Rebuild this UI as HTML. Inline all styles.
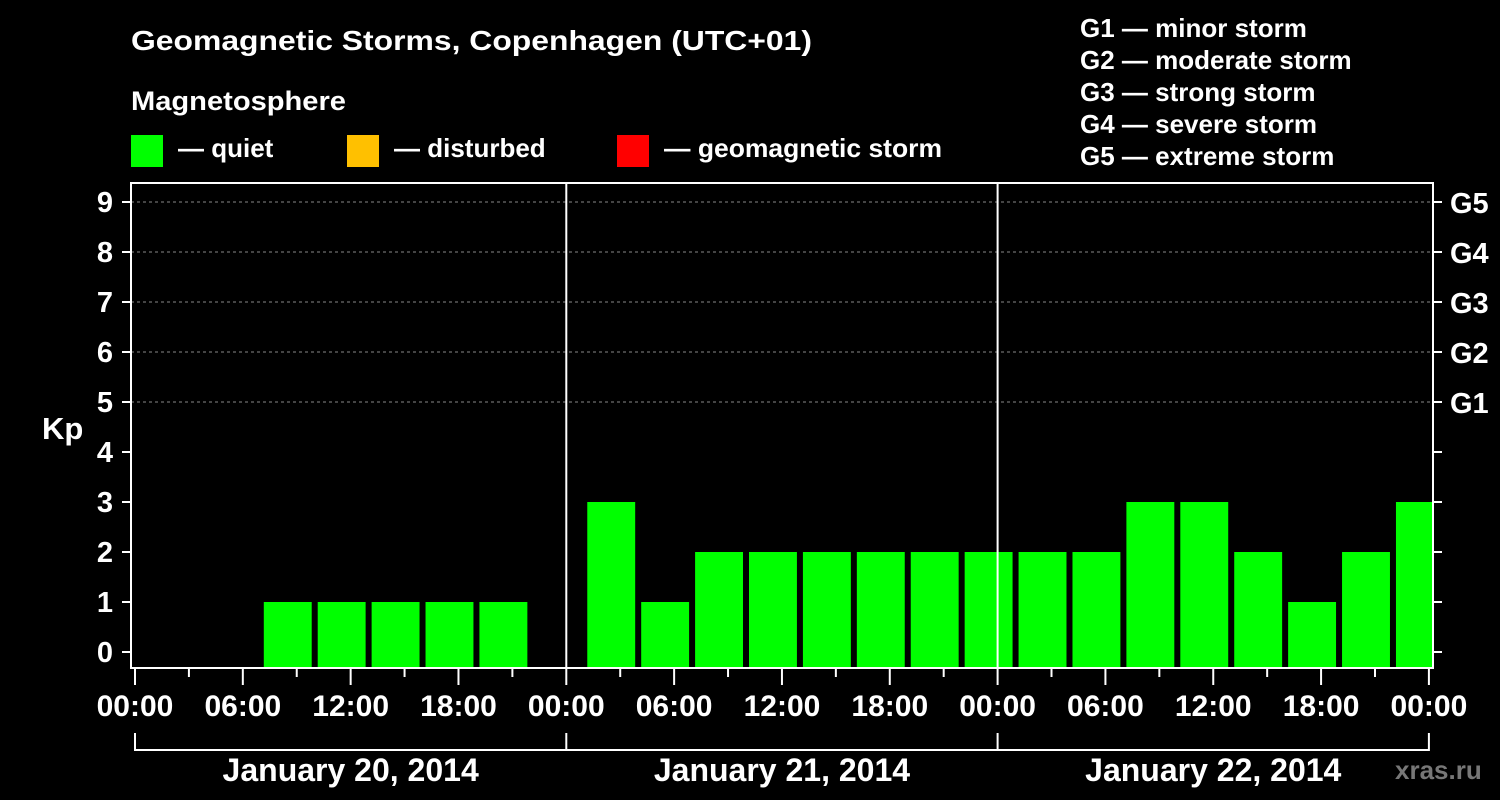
<!DOCTYPE html>
<html><head><meta charset="utf-8"><style>
html,body{margin:0;padding:0;background:#000;}
svg{display:block;font-family:"Liberation Sans",Arial,sans-serif;font-weight:bold;}
</style></head><body>
<svg id="chart" width="1500" height="800">
<rect width="1500" height="800" fill="#000"/>
<g fill="#fff" font-size="26">
<text x="131" y="50" font-size="28" textLength="681" lengthAdjust="spacingAndGlyphs">Geomagnetic Storms, Copenhagen (UTC+01)</text>
<text x="131" y="110" font-size="27" textLength="215" lengthAdjust="spacingAndGlyphs">Magnetosphere</text>
<g><rect x="131" y="135" width="32" height="32" fill="#00ff00"/><text x="178" y="157">— quiet</text></g>
<g><rect x="347" y="135" width="32" height="32" fill="#ffc000"/><text x="394" y="157">— disturbed</text></g>
<g><rect x="617" y="135" width="32" height="32" fill="#ff0000"/><text x="664" y="157" textLength="278" lengthAdjust="spacingAndGlyphs">— geomagnetic storm</text></g>
<g>
<text x="1080" y="37">G1 — minor storm</text>
<text x="1080" y="69">G2 — moderate storm</text>
<text x="1080" y="101">G3 — strong storm</text>
<text x="1080" y="133">G4 — severe storm</text>
<text x="1080" y="165">G5 — extreme storm</text>
</g>
<text x="42" y="439" font-size="31">Kp</text>
<text x="1395" y="779" fill="#777">xras.ru</text>
</g>
<g id="plot"></g>
</svg>
<script>
const kpValues=[null,null,1,1,1,1,1,null,3,1,2,2,2,2,2,2,2,2,3,3,2,1,2,3];
const dayLabels=["January 20, 2014","January 21, 2014","January 22, 2014"];
const hourLabels=["00:00","06:00","12:00","18:00"];
const gLabels=["G1","G2","G3","G4","G5"];
const NS="http://www.w3.org/2000/svg";
const X0=135,DAY=431.3,HR=DAY/24,L=131,R=1433,T=183,B=668;
const y=k=>652-50*k;
const x=h=>X0+h*HR;
const g=document.getElementById('plot');
function mk(t,a,p){const e=document.createElementNS(NS,t);for(const k in a)e.setAttribute(k,a[k]);(p||g).appendChild(e);return e;}
for(let k=5;k<=9;k++){const l=mk('line',{x1:L,x2:R,y1:y(k),y2:y(k),stroke:'#888','stroke-dasharray':'3,3','stroke-width':1});

}
const clip=mk('clipPath',{id:'pc'});mk('rect',{x:L,y:T,width:R-L,height:B-T},clip);
kpValues.forEach((v,i)=>{if(v==null)return;
const h0=1+3*i;const c=v>=5?'#ff0000':(v>=4?'#ffc000':'#00ff00');
const r=mk('rect',{x:x(h0)+3,y:y(v),width:3*HR-6,height:B-y(v),fill:c,'clip-path':'url(#pc)'});

});
for(let d=1;d<3;d++){const l=mk('line',{x1:x(24*d),x2:x(24*d),y1:T,y2:B,stroke:'#fff','stroke-width':2});

}
const f=mk('rect',{x:L,y:T,width:R-L,height:B-T,fill:'none',stroke:'#fff','stroke-width':2});


for(let k=0;k<=9;k++){
mk('line',{x1:122,x2:L,y1:y(k),y2:y(k),stroke:'#fff','stroke-width':2});
mk('line',{x1:R,x2:1442,y1:y(k),y2:y(k),stroke:'#fff','stroke-width':2});
const t=mk('text',{x:113,y:y(k)+10,fill:'#fff','font-size':29,'text-anchor':'end'});t.textContent=k;


if(k>=5){const gt=mk('text',{x:1450,y:y(k)+11,fill:'#fff','font-size':29});gt.textContent=gLabels[k-5];

}}
for(let h=0;h<=72;h+=3){const maj=h%6==0;mk('line',{x1:x(h),x2:x(h),y1:B,y2:maj?685:677,stroke:'#fff','stroke-width':2});
if(maj){const t=mk('text',{x:x(h),y:716,fill:'#fff','font-size':30,'text-anchor':'middle'});t.textContent=hourLabels[(h%24)/6];

}}
mk('path',{d:`M${x(0)} 733V750H${x(72)}V733`,fill:'none',stroke:'#fff','stroke-width':2});
for(let d=1;d<3;d++)mk('line',{x1:x(24*d),x2:x(24*d),y1:733,y2:750,stroke:'#fff','stroke-width':2});
dayLabels.forEach((s,d)=>{const t=mk('text',{x:x(24*d+12),y:781,fill:'#fff','font-size':32,'text-anchor':'middle'});t.textContent=s;

});
</script>
</body></html>
